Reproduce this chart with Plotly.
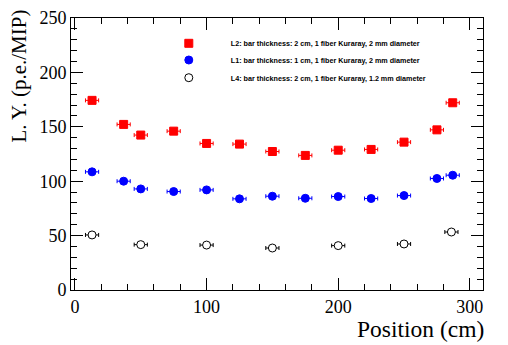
import plotly.graph_objects as go

# Data
pos_L2 = [13, 37, 50, 75, 100, 125, 150, 175, 200, 225, 250, 275, 287]
ly_L2 = [174.3, 152.2, 142.4, 146.0, 134.7, 134.1, 127.3, 123.7, 128.5, 129.2, 135.9, 147.2, 172.1]
pos_L1 = [13, 37, 50, 75, 100, 125, 150, 175, 200, 225, 250, 275, 287]
ly_L1 = [108.6, 100.0, 92.9, 90.5, 92.0, 83.8, 86.2, 84.3, 85.9, 84.1, 86.8, 102.5, 105.5]
pos_L4 = [13, 50, 100, 150, 200, 250, 286]
ly_L4 = [50.6, 41.7, 41.3, 38.6, 40.8, 42.3, 53.3]
x_err = 5
y_err = 1.5

names = [
    "L2: bar thickness: 2 cm, 1 fiber Kuraray, 2 mm diameter",
    "L1: bar thickness: 1 cm, 1 fiber Kuraray, 2 mm diameter",
    "L4: bar thickness: 2 cm, 1 fiber Kuraray, 1.2 mm diameter",
]

fig = go.Figure()

def add(xs, ys, name, color, symbol, line_color, legend):
    fig.add_trace(go.Scatter(
        x=xs, y=ys, mode="markers", name=name, legend=legend,
        marker=dict(symbol=symbol, size=8, color=color,
                    line=dict(color=line_color, width=1)),
        error_x=dict(type="constant", value=x_err, color=line_color, thickness=1, width=2),
        error_y=dict(type="constant", value=y_err, color=line_color, thickness=1, width=0),
    ))

add(pos_L2, ly_L2, names[0], "red", "square", "red", "legend")
add(pos_L1, ly_L1, names[1], "blue", "circle", "blue", "legend2")
add(pos_L4, ly_L4, names[2], "white", "circle", "black", "legend3")

serif = "Liberation Serif, Times New Roman, serif"

axis_common = dict(
    showline=True, linecolor="black", linewidth=1, mirror="allticks",
    ticks="inside", ticklen=12, tickwidth=1, tickcolor="black",
    showgrid=False, zeroline=False, automargin=False,
    tickfont=dict(family=serif, size=18, color="black"),
)

fig.update_xaxes(range=[-3, 310], dtick=100, tick0=0,
                 minor=dict(ticks="inside", ticklen=6, dtick=20, tickcolor="black", showgrid=False),
                 **axis_common)
fig.update_yaxes(range=[0, 250], dtick=50, tick0=0,
                 minor=dict(ticks="inside", ticklen=6, dtick=10, tickcolor="black", showgrid=False),
                 **axis_common)

fig.add_annotation(text="Position (cm)", xref="paper", yref="paper", x=1.007, y=-0.142,
                   xanchor="right", yanchor="middle", showarrow=False,
                   font=dict(family=serif, size=23.5, color="black"))
fig.add_annotation(text="L. Y. (p.e./MIP)", xref="paper", yref="paper", x=-0.126, y=0.785,
                   xanchor="center", yanchor="middle", textangle=-90, showarrow=False,
                   font=dict(family=serif, size=21, color="black"))

leg_font = dict(family="Liberation Sans, Arial, sans-serif", size=7.2, color="black", weight="bold")
leg_common = dict(xanchor="left", yanchor="middle", bgcolor="rgba(0,0,0,0)",
                  font=leg_font, itemwidth=74)
leg_x = 0.184
fig.update_layout(
    width=500, height=337,
    margin=dict(l=63, r=25, t=10, b=55),
    paper_bgcolor="white", plot_bgcolor="white",
    showlegend=True,
    legend=dict(x=leg_x, y=(290 - 43.3) / 272, **leg_common),
    legend2=dict(x=leg_x, y=(290 - 60) / 272, **leg_common),
    legend3=dict(x=leg_x, y=(290 - 77.7) / 272, **leg_common),
)

fig.write_html("out.html")
